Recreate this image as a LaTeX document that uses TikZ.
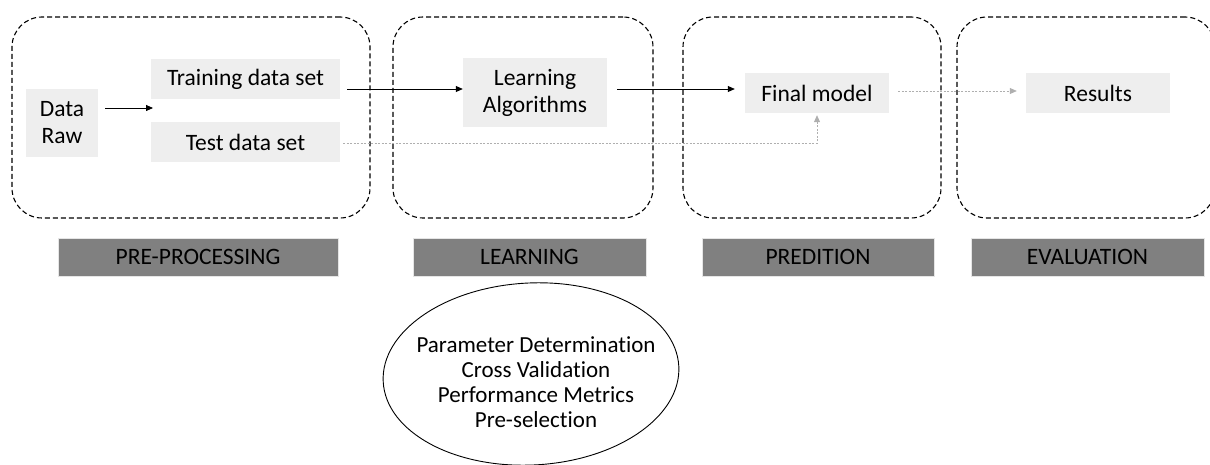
\documentclass[tikz,border=0pt]{standalone}
\usepackage{fontspec}
\setmainfont{Carlito}[Ligatures=NoCommon]
\usepackage{tikz}
\usetikzlibrary{arrows.meta,positioning,shapes.geometric}
\definecolor{itemgray}{RGB}{238,238,238}
\definecolor{taggray}{RGB}{128,128,128}
\definecolor{dotgray}{RGB}{175,175,175}

\begin{document}
\begin{tikzpicture}[x=1pt,y=-1pt,
  font=\fontsize{23.5}{27}\selectfont,
  stage/.style={draw,dashed,dash pattern=on 5pt off 3pt,line width=1.1pt,
                rounded corners=30pt,minimum height=201pt,inner sep=0pt},
  item/.style={fill=itemgray,align=center,inner sep=0pt,
               minimum width=144pt,minimum height=40pt},
  tag/.style={fill=taggray,draw=black!10,line width=0.8pt,inner sep=0pt,
              minimum width=230pt,minimum height=38pt},
  arr/.style={-{Triangle[length=7pt,width=6pt]},line width=0.8pt},
  dotarr/.style={-{Triangle[length=7pt,width=6pt]},draw=dotgray,
                 dash pattern=on 2pt off 1.5pt,line width=0.8pt}]
\useasboundingbox (0,0) rectangle (1210,465);
% dashed stage frames
\node[stage,minimum width=358pt] (pre)  at (191,117.5)  {};
\node[stage,minimum width=260pt] (lrn)  at (523,117.5)  {};
\node[stage,minimum width=258pt] (pred) at (812,117.5)  {};
\node[stage,minimum width=258pt] (eval) at (1086,117.5) {};
% contents
\node[item,minimum width=72pt,minimum height=68pt] (raw) at (62,123) {Data\\Raw};
\node[item,minimum width=189pt] (train) at (245.5,79) {Training data set};
\node[item,minimum width=189pt,below=23pt of train] (test) {Test data set};
\node[item,minimum height=69pt] (algo) at (535,92.5) {Learning\\Algorithms};
\node[item] (final) at (817,93) {Final model};
\node[item] (res) at (1098,93) {Results};
\coordinate (split) at (153,108);
% stage labels
\node[tag,minimum width=280pt] (tpre) at (198,257) {PRE-PROCESSING};
\node[tag,minimum width=233pt] (tlrn) at (529.5,257) {LEARNING};
\node[tag,minimum width=232pt] (tpred) at (818,257) {PREDITION};
\node[tag,minimum width=233pt] (teval) at (1087.5,257) {EVALUATION};
% learning details
\node[ellipse,draw,line width=0.9pt,minimum width=296pt,minimum height=182pt,
      inner sep=0pt,rotate=3] (tasks) at (531,374) {};
\node[align=center,inner sep=0pt,font=\fontsize{23}{25}\selectfont]
  (tasklist) at (536,382)
  {Parameter Determination\\Cross Validation\\Performance Metrics\\Pre-selection};
% connectors
\draw[arr] (raw.east|-split) ++(7,0) -- (split);
\draw[arr] ([xshift=7pt,yshift=-10pt]train.east) -- ([yshift=3.5pt]algo.west);
\draw[arr] ([xshift=10pt,yshift=3.5pt]algo.east) -- ([xshift=-10pt,yshift=4pt]final.west);
\draw[dotarr] ([xshift=3pt,yshift=-1pt]test.east) -| ([yshift=-2pt]final.south);
\draw[dotarr] ([xshift=9pt,yshift=2pt]final.east) -- ([xshift=-9pt,yshift=2pt]res.west);
\end{tikzpicture}
\end{document}
